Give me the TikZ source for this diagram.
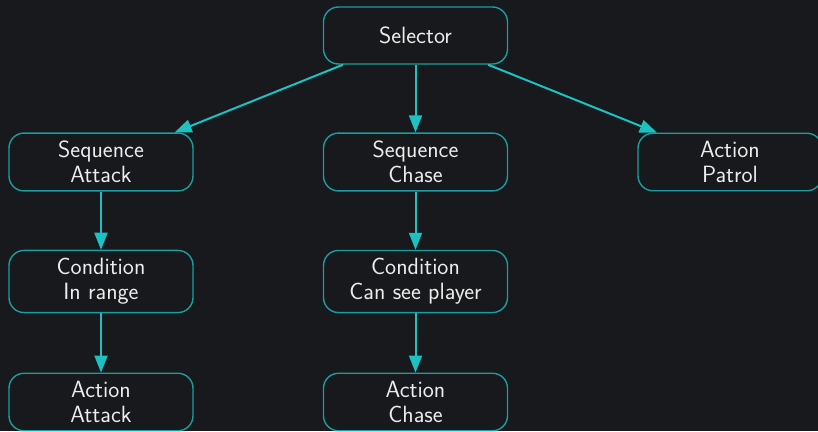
\documentclass[tikz,border=0pt]{standalone}
\usetikzlibrary{arrows.meta}
\definecolor{bg}{HTML}{17191C}
\definecolor{edge}{HTML}{1A9E9E}
\definecolor{arrowc}{HTML}{1CC2C2}
\definecolor{txt}{HTML}{ECECEC}
\begin{document}
\begin{tikzpicture}[x=1pt,y=-1pt,
  box/.style={draw=edge, line width=1.4pt, rounded corners=15pt, fill=bg,
    minimum width=184pt, minimum height=57pt, inner ysep=8pt, align=center,
    text=txt, font=\sffamily\fontsize{23.5}{25}\selectfont},
  link/.style={draw=arrowc, line width=2pt, -{Triangle[length=17pt,width=13pt]}}]
\useasboundingbox (0,0) rectangle (818,431);
\fill[bg] (0,0) rectangle (818,431);
\begin{scope}
\clip (0,0) rectangle (818,431);
\node[box] (sel) at (415.5,35.5) {Selector};
\node[box] (seqA) at (101,162) {Sequence\\Attack};
\node[box] (seqC) at (415.5,162) {Sequence\\Chase};
\node[box] (patrol) at (730,162) {Action\\Patrol};
\node[box] (condA) at (101,281.5) {Condition\\In range};
\node[box] (condC) at (415.5,281.5) {Condition\\Can see player};
\node[box] (actA) at (101,402) {Action\\Attack};
\node[box] (actC) at (415.5,402) {Action\\Chase};
\draw[link] (sel) -- (seqA);
\draw[link] (sel) -- (seqC);
\draw[link] (sel) -- (patrol);
\draw[link] (seqA) -- (condA);
\draw[link] (condA) -- (actA);
\draw[link] (seqC) -- (condC);
\draw[link] (condC) -- (actC);
\end{scope}
\end{tikzpicture}
\end{document}
